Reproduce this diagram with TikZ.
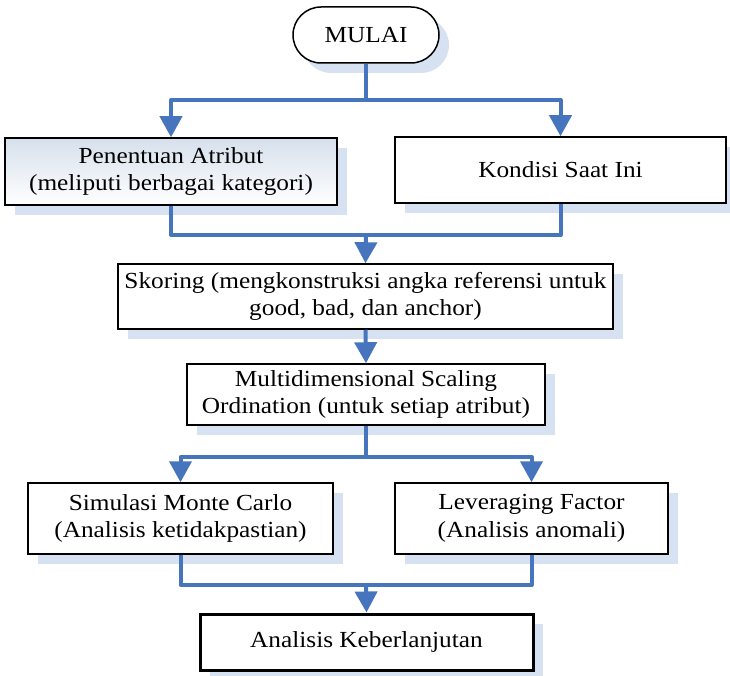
\documentclass[tikz,border=0pt]{standalone}
\usepackage{fontspec}
\setmainfont{Liberation Serif}[FakeStretch=1.1]
\usetikzlibrary{arrows.meta,shadows}

\definecolor{flowblue}{RGB}{70,117,190}
\definecolor{shadowblue}{RGB}{214,225,242}
\definecolor{gradtop}{RGB}{214,224,236}

\tikzset{
  box/.style={draw=black, line width=1.5pt, fill=white, align=center,
    inner sep=0pt, font=\fontsize{23}{27.5}\selectfont,
    drop shadow={shadow xshift=10pt, shadow yshift=-10pt, fill=shadowblue, opacity=1}},
  flow/.style={draw=flowblue, line width=4pt, line join=round},
  flowarrow/.style={flow, -{Triangle[length=21pt,width=22pt]}}
}

\begin{document}
\begin{tikzpicture}[x=1pt, y=-1pt]
\useasboundingbox (0,0) rectangle (730,676);

% process steps
\node[box, rounded corners=28pt, minimum width=146pt, minimum height=56pt] (start) at (366,35) {MULAI};
\node[box, top color=gradtop, bottom color=white, minimum width=332pt, minimum height=67pt] (atribut) at (171,171.5)
  {Penentuan Atribut\\(meliputi berbagai kategori)};
\node[box, minimum width=331pt, minimum height=66pt] (kondisi) at (560.5,170) {Kondisi Saat Ini};
\node[box, minimum width=495pt, minimum height=65pt] (skoring) at (365.5,296.5)
  {Skoring (mengkonstruksi angka referensi untuk\\good, bad, dan anchor)};
\node[box, minimum width=358pt, minimum height=61pt] (mds) at (366,394.5)
  {Multidimensional Scaling\\Ordination (untuk setiap atribut)};
\node[box, minimum width=305pt, minimum height=71pt] (monte) at (180.5,518.5)
  {Simulasi Monte Carlo\\(Analisis ketidakpastian)};
\node[box, minimum width=273pt, minimum height=71pt] (lever) at (531.5,518.5)
  {Leveraging Factor\\(Analisis anomali)};
\node[box, line width=3pt, minimum width=333pt, minimum height=56pt] (hasil) at (366.5,642)
  {Analisis Keberlanjutan};

% junctions of the branching connectors
\coordinate (j1) at (366,100);
\coordinate (j2) at (366,235);
\coordinate (j3) at (366,457);
\coordinate (j4) at (366,585);

% connectors
\draw[flow] (start.south) -- (j1);
\draw[flowarrow] (j1) -| (atribut.north);
\draw[flowarrow] (j1) -| (kondisi.north);

\draw[flow] (atribut.south) |- (j2) -| (kondisi.south);
\draw[flowarrow] (j2) -- (skoring.north);

\draw[flowarrow] (skoring.south) -- (mds.north);

\draw[flow] (mds.south) -- (j3);
\draw[flowarrow] (j3) -| (monte.north);
\draw[flowarrow] (j3) -| (lever.north);

\draw[flow] (monte.south) |- (j4) -| (lever.south);
\draw[flowarrow] (j4) -- (hasil.north);
\end{tikzpicture}
\end{document}
